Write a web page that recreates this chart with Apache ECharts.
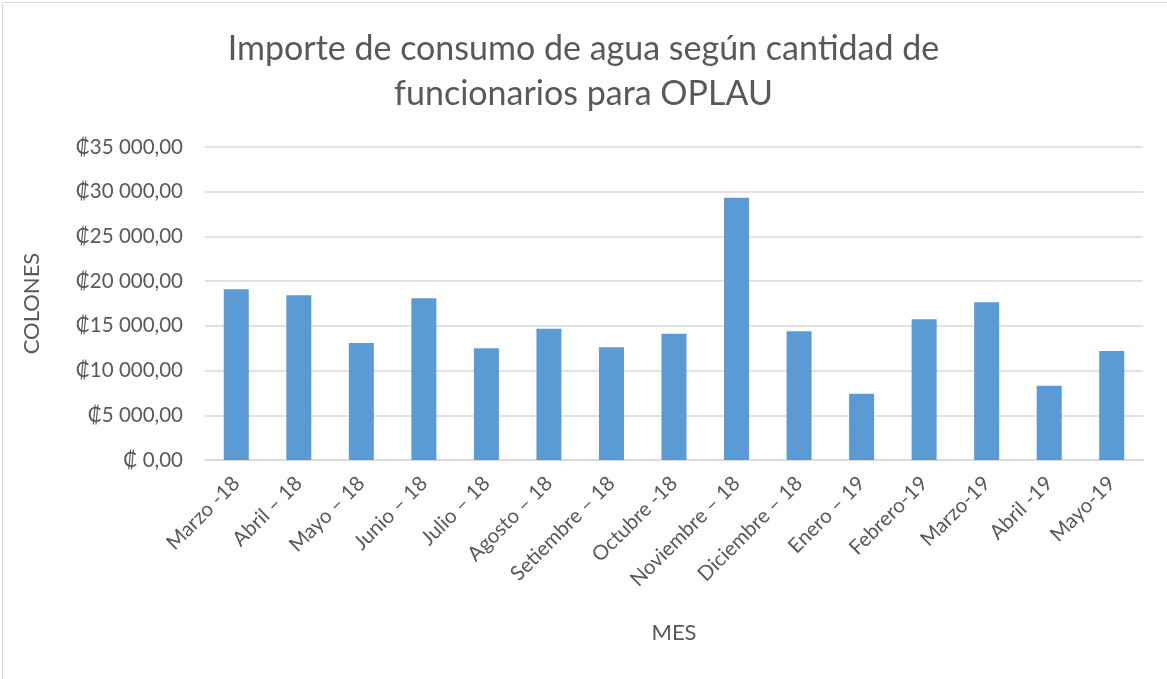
<!DOCTYPE html>
<html>
<head>
<meta charset="utf-8">
<script src="https://cdn.jsdelivr.net/npm/echarts@6/dist/echarts.min.js"></script>
<style>
html, body { margin: 0; padding: 0; background: #fff; }
#main { width: 1167px; height: 679px; }
</style>
</head>
<body>
<div id="main"></div>
<script>
var meses = ['Marzo -18', 'Abril – 18', 'Mayo – 18', 'Junio – 18', 'Julio – 18', 'Agosto – 18',
    'Setiembre – 18', 'Octubre -18', 'Noviembre – 18', 'Diciembre – 18', 'Enero – 19',
    'Febrero-19', 'Marzo-19', 'Abril -19', 'Mayo-19'];
var importes = [19090, 18410, 13080, 18080, 12490, 14680, 12600, 14120, 29330, 14390,
    7410, 15730, 17630, 8310, 12190];
var yTicks = [0, 5000, 10000, 15000, 20000, 25000, 30000, 35000];

var font = 'Lato, "DejaVu Sans", sans-serif';
var gris = '#595959';

function colones(v) {
    if (v === 0) return '₡ 0,00';
    var s = String(Math.round(v)).replace(/\B(?=(\d{3})+(?!\d))/g, ' ');
    return '₡' + s + ',00';
}

var dom = document.getElementById('main');
var myChart = echarts.init(dom);
var option = {
    animation: false,
    title: {
        text: 'Importe de consumo de agua según cantidad de\nfuncionarios para OPLAU',
        left: 'center',
        top: 22,
        textStyle: {
            fontFamily: font,
            fontWeight: 400,
            fontSize: 34,
            lineHeight: 45,
            color: gris
        }
    },
    graphic: [{
        type: 'rect',
        shape: { x: 2.5, y: 2.5, width: 1180, height: 690 },
        style: { fill: 'none', stroke: '#d9d9d9', lineWidth: 1 }
    }],
    grid: { left: 205, right: 24, top: 147, bottom: 219 },
    xAxis: {
        type: 'category',
        data: meses,
        name: 'MES',
        nameLocation: 'middle',
        nameGap: 162,
        nameTextStyle: { fontFamily: font, fontSize: 22, color: gris },
        axisLine: { lineStyle: { color: '#d9d9d9', width: 1.5 } },
        axisTick: { show: false },
        axisLabel: {
            interval: 0,
            rotate: 45,
            margin: 20,
            fontFamily: font,
            fontSize: 20.5,
            color: gris
        }
    },
    yAxis: {
        type: 'value',
        min: yTicks[0],
        max: yTicks[yTicks.length - 1],
        interval: yTicks[1] - yTicks[0],
        name: 'COLONES',
        nameLocation: 'middle',
        nameGap: 162,
        nameTextStyle: { fontFamily: font, fontSize: 22, color: gris },
        axisLine: { show: false },
        axisTick: { show: false },
        splitLine: { lineStyle: { color: '#d9d9d9', width: 1.5 } },
        axisLabel: {
            margin: 22,
            fontFamily: font,
            fontSize: 20.5,
            color: gris,
            formatter: colones
        }
    },
    series: [{
        type: 'bar',
        data: importes,
        barWidth: '40%',
        itemStyle: { color: '#5b9bd5' }
    }]
};
myChart.setOption(option);
</script>
</body>
</html>
